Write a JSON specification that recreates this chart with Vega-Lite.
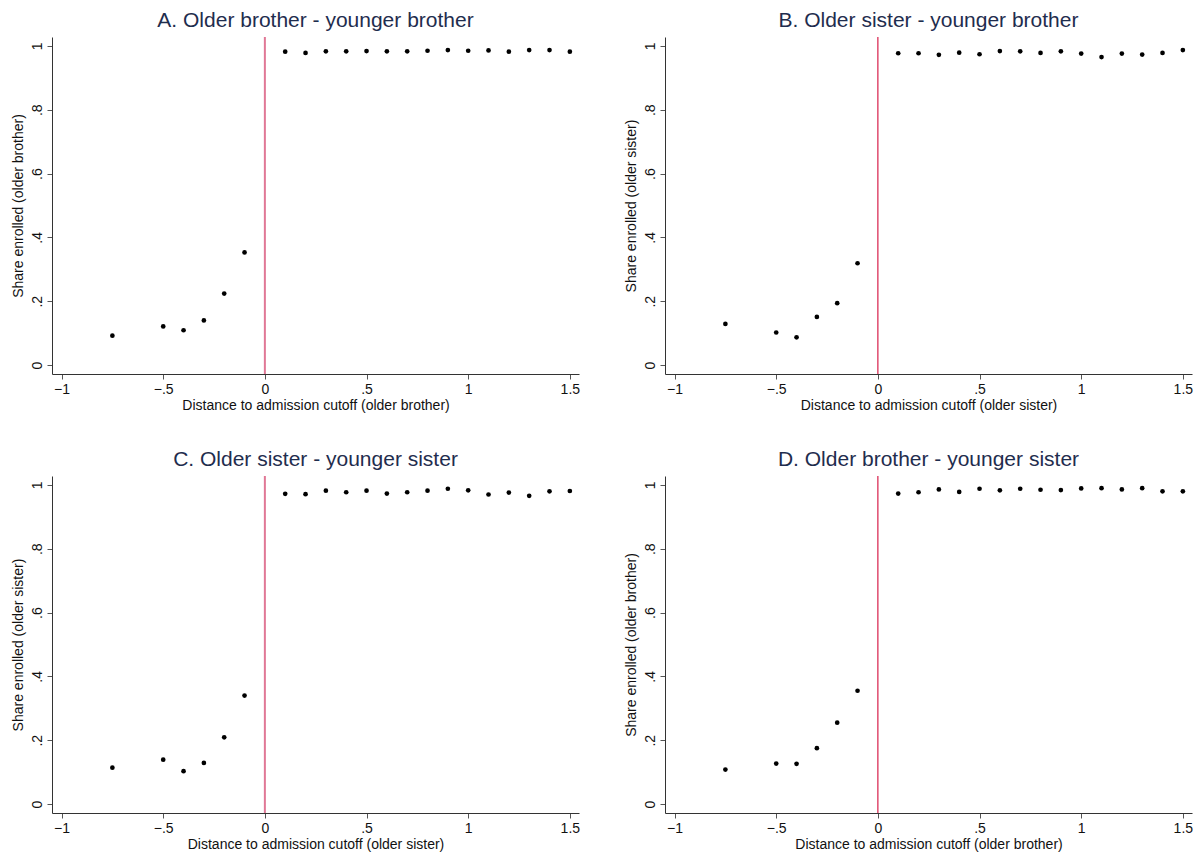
{
  "$schema": "https://vega.github.io/schema/vega-lite/v6.json",
  "padding": {"left": 11, "top": 10, "right": 5, "bottom": 5},
  "background": "white",
  "datasets": {
    "A": [
      {"dist": -0.75, "share": 0.092}, {"dist": -0.5, "share": 0.121}, {"dist": -0.4, "share": 0.109},
      {"dist": -0.3, "share": 0.140}, {"dist": -0.2, "share": 0.224}, {"dist": -0.1, "share": 0.353},
      {"dist": 0.1, "share": 0.982}, {"dist": 0.2, "share": 0.978}, {"dist": 0.3, "share": 0.983},
      {"dist": 0.4, "share": 0.983}, {"dist": 0.5, "share": 0.984}, {"dist": 0.6, "share": 0.983},
      {"dist": 0.7, "share": 0.983}, {"dist": 0.8, "share": 0.985}, {"dist": 0.9, "share": 0.987},
      {"dist": 1.0, "share": 0.985}, {"dist": 1.1, "share": 0.986}, {"dist": 1.2, "share": 0.982},
      {"dist": 1.3, "share": 0.987}, {"dist": 1.4, "share": 0.987}, {"dist": 1.5, "share": 0.982}
    ],
    "B": [
      {"dist": -0.75, "share": 0.129}, {"dist": -0.5, "share": 0.102}, {"dist": -0.4, "share": 0.087},
      {"dist": -0.3, "share": 0.151}, {"dist": -0.2, "share": 0.194}, {"dist": -0.1, "share": 0.319},
      {"dist": 0.1, "share": 0.977}, {"dist": 0.2, "share": 0.977}, {"dist": 0.3, "share": 0.972},
      {"dist": 0.4, "share": 0.979}, {"dist": 0.5, "share": 0.974}, {"dist": 0.6, "share": 0.984},
      {"dist": 0.7, "share": 0.983}, {"dist": 0.8, "share": 0.978}, {"dist": 0.9, "share": 0.983},
      {"dist": 1.0, "share": 0.976}, {"dist": 1.1, "share": 0.965}, {"dist": 1.2, "share": 0.976},
      {"dist": 1.3, "share": 0.973}, {"dist": 1.4, "share": 0.978}, {"dist": 1.5, "share": 0.987}
    ],
    "C": [
      {"dist": -0.75, "share": 0.114}, {"dist": -0.5, "share": 0.139}, {"dist": -0.4, "share": 0.103},
      {"dist": -0.3, "share": 0.129}, {"dist": -0.2, "share": 0.209}, {"dist": -0.1, "share": 0.340},
      {"dist": 0.1, "share": 0.972}, {"dist": 0.2, "share": 0.971}, {"dist": 0.3, "share": 0.982},
      {"dist": 0.4, "share": 0.977}, {"dist": 0.5, "share": 0.982}, {"dist": 0.6, "share": 0.973},
      {"dist": 0.7, "share": 0.977}, {"dist": 0.8, "share": 0.982}, {"dist": 0.9, "share": 0.988},
      {"dist": 1.0, "share": 0.983}, {"dist": 1.1, "share": 0.970}, {"dist": 1.2, "share": 0.976},
      {"dist": 1.3, "share": 0.966}, {"dist": 1.4, "share": 0.980}, {"dist": 1.5, "share": 0.981}
    ],
    "D": [
      {"dist": -0.75, "share": 0.108}, {"dist": -0.5, "share": 0.127}, {"dist": -0.4, "share": 0.126},
      {"dist": -0.3, "share": 0.175}, {"dist": -0.2, "share": 0.255}, {"dist": -0.1, "share": 0.355},
      {"dist": 0.1, "share": 0.973}, {"dist": 0.2, "share": 0.977}, {"dist": 0.3, "share": 0.986},
      {"dist": 0.4, "share": 0.978}, {"dist": 0.5, "share": 0.988}, {"dist": 0.6, "share": 0.983},
      {"dist": 0.7, "share": 0.988}, {"dist": 0.8, "share": 0.985}, {"dist": 0.9, "share": 0.984},
      {"dist": 1.0, "share": 0.989}, {"dist": 1.1, "share": 0.990}, {"dist": 1.2, "share": 0.986},
      {"dist": 1.3, "share": 0.990}, {"dist": 1.4, "share": 0.980}, {"dist": 1.5, "share": 0.980}
    ],
    "cut": [{"dist": 0}]
  },
  "config": {
    "font": "Liberation Sans",
    "view": {"stroke": null},
    "title": {"fontSize": 21, "fontWeight": "normal", "color": "#1f2d4e", "anchor": "middle", "offset": 5, "font": "Liberation Sans"},
    "axis": {
      "grid": false, "domainColor": "#333333", "domainWidth": 1, "tickColor": "#555555", "tickSize": 5,
      "labelFontSize": 14, "labelColor": "#111111", "titleFontSize": 14, "titleFontWeight": "normal", "titleColor": "#111111",
      "labelFont": "Liberation Sans", "titleFont": "Liberation Sans", "labelPadding": 3
    }
  },
  "columns": 2,
  "spacing": {"row": 37, "column": 44},
  "concat": [
    {
      "width": 527, "height": 337,
      "title": "A. Older brother - younger brother",
      "encoding": {
        "x": {"field": "dist", "type": "quantitative",
          "scale": {"domain": [-1.047, 1.545], "nice": false, "zero": false},
          "axis": {"title": "Distance to admission cutoff (older brother)", "values": [-1, -0.5, 0, 0.5, 1, 1.5], "format": ".1~f", "labelExpr": "replace(datum.label, '0.', '.')", "titlePadding": 2}}
      },
      "layer": [
        {"data": {"name": "cut"}, "mark": {"type": "rule", "color": "#e07896", "strokeWidth": 2}},
        {"data": {"name": "A"}, "mark": {"type": "point", "filled": true, "color": "black", "size": 22, "opacity": 1},
          "encoding": {"y": {"field": "share", "type": "quantitative",
            "scale": {"domain": [-0.028, 1.028], "nice": false, "zero": false},
            "axis": {"title": "Share enrolled (older brother)", "values": [0, 0.2, 0.4, 0.6, 0.8, 1], "format": ".1~f", "labelExpr": "replace(datum.label, '0.', '.')", "labelAngle": -90, "labelAlign": "center", "labelBaseline": "bottom", "titlePadding": 5}}}}
      ]
    },
    {
      "width": 527, "height": 337,
      "title": "B. Older sister - younger brother",
      "encoding": {
        "x": {"field": "dist", "type": "quantitative",
          "scale": {"domain": [-1.047, 1.545], "nice": false, "zero": false},
          "axis": {"title": "Distance to admission cutoff (older sister)", "values": [-1, -0.5, 0, 0.5, 1, 1.5], "format": ".1~f", "labelExpr": "replace(datum.label, '0.', '.')", "titlePadding": 2}}
      },
      "layer": [
        {"data": {"name": "cut"}, "mark": {"type": "rule", "color": "#d81e4a", "strokeWidth": 1.2}},
        {"data": {"name": "B"}, "mark": {"type": "point", "filled": true, "color": "black", "size": 22, "opacity": 1},
          "encoding": {"y": {"field": "share", "type": "quantitative",
            "scale": {"domain": [-0.028, 1.028], "nice": false, "zero": false},
            "axis": {"title": "Share enrolled (older sister)", "values": [0, 0.2, 0.4, 0.6, 0.8, 1], "format": ".1~f", "labelExpr": "replace(datum.label, '0.', '.')", "labelAngle": -90, "labelAlign": "center", "labelBaseline": "bottom", "titlePadding": 5}}}}
      ]
    },
    {
      "width": 527, "height": 337,
      "title": "C. Older sister - younger sister",
      "encoding": {
        "x": {"field": "dist", "type": "quantitative",
          "scale": {"domain": [-1.047, 1.545], "nice": false, "zero": false},
          "axis": {"title": "Distance to admission cutoff (older sister)", "values": [-1, -0.5, 0, 0.5, 1, 1.5], "format": ".1~f", "labelExpr": "replace(datum.label, '0.', '.')", "titlePadding": 2}}
      },
      "layer": [
        {"data": {"name": "cut"}, "mark": {"type": "rule", "color": "#e07896", "strokeWidth": 2}},
        {"data": {"name": "C"}, "mark": {"type": "point", "filled": true, "color": "black", "size": 22, "opacity": 1},
          "encoding": {"y": {"field": "share", "type": "quantitative",
            "scale": {"domain": [-0.028, 1.028], "nice": false, "zero": false},
            "axis": {"title": "Share enrolled (older sister)", "values": [0, 0.2, 0.4, 0.6, 0.8, 1], "format": ".1~f", "labelExpr": "replace(datum.label, '0.', '.')", "labelAngle": -90, "labelAlign": "center", "labelBaseline": "bottom", "titlePadding": 5}}}}
      ]
    },
    {
      "width": 527, "height": 337,
      "title": "D. Older brother - younger sister",
      "encoding": {
        "x": {"field": "dist", "type": "quantitative",
          "scale": {"domain": [-1.047, 1.545], "nice": false, "zero": false},
          "axis": {"title": "Distance to admission cutoff (older brother)", "values": [-1, -0.5, 0, 0.5, 1, 1.5], "format": ".1~f", "labelExpr": "replace(datum.label, '0.', '.')", "titlePadding": 2}}
      },
      "layer": [
        {"data": {"name": "cut"}, "mark": {"type": "rule", "color": "#d81e4a", "strokeWidth": 1.2}},
        {"data": {"name": "D"}, "mark": {"type": "point", "filled": true, "color": "black", "size": 22, "opacity": 1},
          "encoding": {"y": {"field": "share", "type": "quantitative",
            "scale": {"domain": [-0.028, 1.028], "nice": false, "zero": false},
            "axis": {"title": "Share enrolled (older brother)", "values": [0, 0.2, 0.4, 0.6, 0.8, 1], "format": ".1~f", "labelExpr": "replace(datum.label, '0.', '.')", "labelAngle": -90, "labelAlign": "center", "labelBaseline": "bottom", "titlePadding": 5}}}}
      ]
    }
  ]
}
